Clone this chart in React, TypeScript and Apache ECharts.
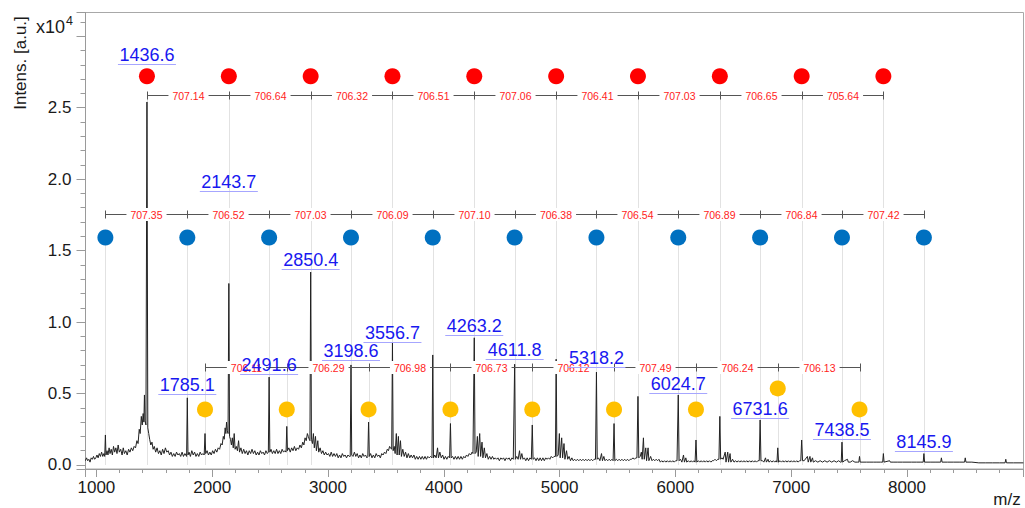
import React, { useEffect, useRef } from "react";
import * as echarts from "echarts";

// Spectrum profile: [m/z, intensity (x10^4 a.u.)]
const spectrum: [number, number][] = [
  [905, .03], [915, .05], [925, .03], [935, .04], [945, .02], [955, .05], [965, .04], [975, .06], [985, .04], [995, .05],
  [1005, .07], [1015, .05], [1025, .08], [1035, .06], [1045, .09], [1055, .06], [1065, .08], [1072, .06], [1077.8, .21], [1083, .07],
  [1092, .10], [1100, .07], [1110, .12], [1118, .08], [1128, .11], [1138, .07], [1148, .13], [1158, .09], [1168, .12], [1178, .08],
  [1188, .14], [1198, .09], [1210, .11], [1222, .07], [1232, .12], [1242, .08], [1254, .10], [1266, .07], [1278, .11], [1290, .09],
  [1302, .12], [1314, .10], [1326, .13], [1338, .12], [1350, .17], [1360, .15], [1370, .25], [1378, .22], [1388, .34], [1396, .28],
  [1404, .36], [1410, .30], [1415, .49], [1420, .31], [1428, .28], [1436.6, 2.54], [1444, .26],
  [1452, .22], [1460, .18], [1470, .14], [1480, .16], [1490, .11], [1500, .13], [1512, .09], [1524, .12], [1536, .08], [1548, .10],
  [1560, .07], [1572, .11], [1584, .08], [1596, .12], [1608, .09], [1620, .10], [1632, .07], [1644, .09], [1656, .06], [1668, .08],
  [1680, .06], [1692, .09], [1704, .07], [1716, .08], [1728, .06], [1740, .09], [1752, .06], [1764, .08], [1772, .07], [1779, .06],
  [1785.1, .47], [1791, .07], [1800, .09], [1812, .06], [1824, .10], [1836, .07], [1848, .09], [1860, .06], [1872, .08], [1884, .06],
  [1896, .09], [1908, .07], [1920, .08], [1931, .07], [1938, .22], [1944, .08], [1956, .10], [1968, .07], [1980, .09], [1992, .07],
  [2004, .10], [2016, .08], [2028, .11], [2040, .09], [2052, .12], [2064, .11], [2076, .15], [2086, .14], [2096, .20], [2104, .18],
  [2112, .26], [2118, .22], [2124, .30], [2130, .24], [2137, .22], [2143.7, 1.27], [2150, .20],
  [2158, .18], [2166, .14], [2174, .19], [2182, .12], [2190, .22], [2198, .11], [2208, .13], [2218, .10], [2228, .17], [2236, .09],
  [2248, .12], [2260, .08], [2272, .11], [2284, .08], [2296, .10], [2308, .07], [2320, .10], [2332, .08], [2344, .11], [2356, .08],
  [2368, .10], [2380, .07], [2392, .09], [2404, .07], [2416, .10], [2428, .08], [2440, .09], [2452, .07], [2464, .10], [2476, .08],
  [2485, .09], [2491.6, .615], [2498, .09], [2508, .11], [2520, .08], [2532, .10], [2544, .08], [2556, .11], [2568, .08], [2580, .10],
  [2592, .08], [2604, .11], [2616, .09], [2628, .10], [2638, .09], [2644.1, .27], [2650, .10], [2662, .12], [2674, .09], [2686, .12],
  [2698, .10], [2710, .13], [2722, .10], [2734, .12], [2746, .11], [2758, .14], [2770, .12], [2782, .16], [2792, .14], [2802, .19],
  [2812, .17], [2822, .22], [2830, .20], [2838, .18], [2844, .17], [2850.4, 1.35], [2857, .18],
  [2866, .15], [2874, .22], [2882, .12], [2892, .20], [2900, .10], [2912, .17], [2920, .09], [2932, .12], [2944, .08], [2956, .10],
  [2968, .07], [2980, .09], [2992, .07], [3004, .08], [3016, .06], [3028, .09], [3040, .06], [3052, .08], [3064, .06], [3076, .08],
  [3088, .05], [3100, .07], [3112, .05], [3124, .08], [3136, .06], [3148, .07], [3160, .05], [3172, .07], [3184, .06], [3192, .06],
  [3198.6, .70], [3205, .07], [3216, .06], [3228, .09], [3240, .06], [3252, .08], [3264, .05], [3276, .07], [3288, .05], [3300, .08],
  [3312, .06], [3324, .07], [3336, .05], [3344, .06], [3350.4, .30], [3357, .06], [3368, .08], [3380, .05], [3392, .07], [3404, .05],
  [3416, .08], [3428, .06], [3440, .07], [3452, .05], [3464, .08], [3476, .07], [3488, .09], [3500, .08], [3512, .11], [3522, .10],
  [3532, .13], [3540, .12], [3550, .11], [3556.7, .86], [3563, .10],
  [3572, .13], [3580, .08], [3590, .22], [3597, .07], [3608, .20], [3615, .07], [3626, .17], [3634, .06], [3646, .11], [3658, .06],
  [3670, .09], [3682, .05], [3694, .08], [3706, .05], [3718, .07], [3730, .05], [3742, .07], [3754, .04], [3766, .06], [3778, .04],
  [3790, .06], [3802, .04], [3814, .06], [3826, .04], [3838, .06], [3850, .04], [3862, .06], [3874, .05], [3886, .06], [3898, .05],
  [3904.7, .77], [3911, .05], [3922, .07], [3934, .05], [3946, .12], [3954, .05], [3966, .09], [3978, .05], [3990, .07], [4002, .04],
  [4014, .06], [4026, .04], [4038, .06], [4050, .05], [4057.4, .29], [4064, .05], [4076, .06], [4088, .04], [4100, .06], [4112, .04],
  [4124, .06], [4136, .04], [4148, .06], [4160, .04], [4172, .06], [4184, .05], [4196, .07], [4208, .06], [4220, .08], [4232, .07],
  [4244, .09], [4252, .08], [4258, .08], [4263.2, .89], [4270, .08],
  [4280, .09], [4290, .20], [4297, .06], [4310, .22], [4318, .06], [4330, .16], [4338, .05], [4350, .12], [4360, .05], [4372, .08],
  [4384, .04], [4396, .06], [4408, .04], [4420, .06], [4432, .04], [4444, .05], [4456, .04], [4468, .05], [4480, .03], [4492, .05],
  [4504, .04], [4516, .05], [4528, .03], [4540, .05], [4552, .04], [4564, .05], [4576, .03], [4588, .05], [4600, .04], [4606, .04],
  [4611.8, .705], [4618, .04], [4630, .06], [4642, .04], [4654, .10], [4662, .04], [4674, .08], [4684, .04], [4696, .05], [4708, .03],
  [4720, .05], [4732, .03], [4744, .05], [4756, .04], [4764.1, .28], [4771, .04], [4784, .05], [4796, .03], [4808, .05], [4820, .03],
  [4832, .05], [4844, .03], [4856, .05], [4868, .03], [4880, .05], [4892, .04], [4904, .05], [4916, .04], [4928, .06], [4940, .05],
  [4952, .06], [4964, .06], [4970.3, .74], [4977, .06],
  [4988, .07], [4998, .22], [5005, .05], [5018, .19], [5026, .05], [5038, .15], [5046, .04], [5060, .10], [5070, .04], [5082, .06],
  [5094, .03], [5106, .05], [5118, .03], [5130, .04], [5142, .03], [5154, .04], [5166, .03], [5178, .04], [5190, .03], [5202, .04],
  [5214, .03], [5226, .04], [5238, .03], [5250, .04], [5262, .03], [5274, .04], [5286, .03], [5298, .04], [5310, .04], [5318.2, .65],
  [5325, .04], [5336, .05], [5348, .03], [5362, .08], [5370, .03], [5382, .06], [5392, .03], [5404, .04], [5416, .03], [5428, .04],
  [5440, .03], [5452, .04], [5462, .03], [5470.2, .29], [5477, .03], [5490, .04], [5502, .03], [5514, .04], [5526, .03], [5538, .04],
  [5550, .03], [5562, .04], [5574, .03], [5586, .04], [5598, .03], [5610, .04], [5622, .04], [5634, .05], [5646, .04], [5658, .05],
  [5668, .05], [5676.7, .48], [5684, .05],
  [5696, .06], [5706, .09], [5713, .04], [5724, .19], [5731, .04], [5744, .12], [5751, .03], [5764, .12], [5771, .03], [5786, .06],
  [5798, .03], [5810, .04], [5822, .03], [5834, .04], [5846, .03], [5858, .04], [5870, .02], [5882, .03], [5894, .02], [5906, .03],
  [5918, .02], [5930, .03], [5942, .02], [5954, .03], [5966, .02], [5978, .03], [5990, .02], [6002, .03], [6014, .03], [6024.7, .49],
  [6032, .03], [6044, .04], [6056, .02], [6070, .07], [6078, .02], [6090, .05], [6098, .02], [6112, .03], [6124, .02], [6136, .03],
  [6148, .02], [6160, .03], [6170, .02], [6177.7, .175], [6185, .02], [6198, .03], [6210, .02], [6222, .03], [6234, .02], [6246, .03],
  [6258, .02], [6270, .03], [6282, .02], [6294, .03], [6306, .02], [6318, .03], [6330, .03], [6342, .04], [6354, .03], [6366, .04],
  [6376, .04], [6383.7, .34], [6391, .04],
  [6402, .05], [6412, .04], [6430, .09], [6437, .02], [6452, .09], [6459, .02], [6472, .08], [6479, .02], [6494, .04], [6506, .02],
  [6520, .03], [6532, .02], [6544, .03], [6556, .02], [6568, .03], [6580, .02], [6592, .03], [6604, .02], [6616, .03], [6628, .02],
  [6640, .03], [6652, .02], [6664, .03], [6676, .02], [6688, .03], [6700, .02], [6712, .03], [6724, .03], [6731.6, .315], [6739, .03],
  [6752, .03], [6764, .02], [6778, .05], [6786, .02], [6800, .04], [6808, .02], [6822, .03], [6834, .02], [6846, .03], [6858, .02],
  [6870, .03], [6877, .02], [6883.9, .12], [6891, .02], [6904, .03], [6916, .02], [6928, .03], [6940, .02], [6952, .03], [6964, .02],
  [6976, .03], [6988, .02], [7000, .03], [7012, .02], [7024, .03], [7036, .02], [7048, .03], [7060, .02], [7072, .03], [7083, .03],
  [7090.4, .175], [7098, .03],
  [7112, .03], [7140, .06], [7147, .02], [7162, .06], [7169, .02], [7184, .05], [7191, .02], [7210, .03], [7230, .02], [7250, .03],
  [7270, .02], [7290, .03], [7310, .02], [7330, .03], [7350, .02], [7370, .03], [7390, .02], [7410, .03], [7425, .02], [7432, .02],
  [7438.5, .16], [7445, .02], [7460, .03], [7486, .04], [7493, .02], [7510, .02], [7530, .03], [7550, .02], [7570, .02], [7584, .02],
  [7590, .06], [7596, .02], [7620, .02], [7650, .02], [7680, .02], [7710, .02], [7740, .02], [7770, .02], [7790, .02], [7796, .08],
  [7802, .02], [7850, .03], [7856, .02], [7880, .02], [7920, .02], [7960, .02], [8000, .02], [8040, .02], [8080, .02], [8120, .02],
  [8140, .02], [8145.9, .08], [8152, .02], [8200, .02], [8250, .02], [8291, .02], [8297, .05], [8303, .02], [8350, .02], [8400, .02],
  [8450, .02], [8497, .02], [8503, .05], [8509, .02], [8560, .02], [8620, .015], [8680, .015], [8740, .015], [8800, .015], [8847, .015],
  [8853, .04], [8859, .015], [8920, .015], [9005, .015],
];

// Peak series (m/z) and their mass differences
const redMz = [1436.6, 2143.7, 2850.4, 3556.7, 4263.2, 4970.3, 5676.7, 6383.7, 7090.4, 7796.0];
const redDiff = ["707.14", "706.64", "706.32", "706.51", "707.06", "706.41", "707.03", "706.65", "705.64"];
const blueMz = [1077.75, 1785.1, 2491.6, 3198.6, 3904.7, 4611.8, 5318.2, 6024.7, 6731.6, 7438.5, 8145.9];
const blueDiff = ["707.35", "706.52", "707.03", "706.09", "707.10", "706.38", "706.54", "706.89", "706.84", "707.42"];
const orangeMz = [1938.0, 2644.1, 3350.4, 4057.4, 4764.1, 5470.2, 6177.7, 6883.9, 7590.0];
const orangeDiff = ["706.11", "706.29", "706.98", "706.73", "706.12", "707.49", "706.24", "706.13"];

// Marker heights (x10^4)
const redDotY = [2.72, 2.72, 2.72, 2.72, 2.72, 2.72, 2.72, 2.72, 2.72, 2.72];
const blueDotY = [1.592, 1.592, 1.592, 1.592, 1.592, 1.592, 1.592, 1.592, 1.592, 1.592, 1.592];
const orangeDotY = [0.389, 0.389, 0.389, 0.389, 0.389, 0.389, 0.389, 0.536, 0.389];
const redLineY = 2.587;
const blueLineY = 1.755;
const orangeLineY = 0.687;

// Peak labels
const peakLabelMz = [1436.6, 2143.7, 2850.4, 3556.7, 4263.2, 1785.1, 2491.6, 3198.6, 4611.8, 5318.2, 6024.7, 6731.6, 7438.5, 8145.9];
const peakLabelY = [2.867, 1.983, 1.436, 0.923, 0.972, 0.557, 0.699, 0.799, 0.804, 0.746, 0.569, 0.394, 0.245, 0.161];

const FONT = "'Liberation Sans', Arial, Helvetica, sans-serif";
const X_MIN = 906;
const X_MAX = 9006;
const Y_MIN = -0.028;
const Y_MAX = 3.166;

function crisp(v: number) {
  return Math.round(v) + 0.5;
}

function guideSeries(mzs: number[], tops: number[]) {
  return {
    type: "custom",
    z: 1,
    silent: true,
    data: mzs.map((m, i) => [m, tops[i]]),
    renderItem: (params: any, api: any) => {
      const p0 = api.coord([api.value(0), api.value(1)]);
      const p1 = api.coord([api.value(0), 0]);
      const x = crisp(p0[0]);
      return {
        type: "line",
        shape: { x1: x, y1: p0[1], x2: x, y2: p1[1] },
        style: { stroke: "#e2e2e2", lineWidth: 1 },
      };
    },
  };
}

function dimSeries(mzs: number[], diffs: string[], lineY: number) {
  return {
    type: "custom",
    z: 4,
    silent: true,
    data: diffs.map((_, i) => [(mzs[i] + mzs[i + 1]) / 2, lineY]),
    renderItem: (params: any, api: any) => {
      const i = params.dataIndex;
      const p0 = api.coord([mzs[i], lineY]);
      const p1 = api.coord([mzs[i + 1], lineY]);
      const y = crisp(p0[1]);
      const x0 = crisp(p0[0]);
      const x1 = crisp(p1[0]);
      const children: any[] = [
        { type: "line", shape: { x1: x0, y1: y, x2: x1, y2: y }, style: { stroke: "#555", lineWidth: 1 } },
        { type: "line", shape: { x1: x0, y1: y - 4, x2: x0, y2: y + 4 }, style: { stroke: "#555", lineWidth: 1 } },
      ];
      if (i === diffs.length - 1) {
        children.push({ type: "line", shape: { x1: x1, y1: y - 4, x2: x1, y2: y + 4 }, style: { stroke: "#555", lineWidth: 1 } });
      }
      children.push({
        type: "text",
        x: (x0 + x1) / 2,
        y: y,
        style: {
          text: diffs[i],
          fill: "#ff1c1c",
          fontSize: 10.5,
          fontFamily: FONT,
          align: "center",
          verticalAlign: "middle",
          backgroundColor: "#ffffff",
          padding: [1, 4, 1, 4],
        },
      });
      return { type: "group", children };
    },
  };
}

function dotSeries(mzs: number[], ys: number[], color: string) {
  return {
    type: "scatter",
    z: 5,
    silent: true,
    symbol: "circle",
    symbolSize: 16,
    itemStyle: { color, opacity: 1 },
    data: mzs.map((m, i) => [m, ys[i]]),
  };
}

export default function App() {
  const ref = useRef<HTMLDivElement>(null);

  useEffect(() => {
    if (!ref.current) return;
    const chart = echarts.init(ref.current, undefined, { renderer: "svg" });
    const axisGray = "#9a9a9a";

    const option: any = {
      animation: false,
      backgroundColor: "#ffffff",
      textStyle: { fontFamily: FONT },
      grid: {
        left: 85.5,
        right: 1.5,
        top: 12.5,
        bottom: 39,
        show: true,
        borderColor: "#a8a8a8",
        borderWidth: 1,
        backgroundColor: "transparent",
        containLabel: false,
        outerBoundsMode: "none",
      },
      xAxis: [
        {
          type: "value",
          min: X_MIN,
          max: X_MAX,
          splitNumber: 8,
          minInterval: 1000,
          maxInterval: 1000,
          axisLine: { show: true, onZero: false, lineStyle: { color: axisGray } },
          axisTick: { show: true, length: 8, lineStyle: { color: axisGray } },
          axisLabel: {
            color: "#1a1a1a",
            fontSize: 17,
            fontFamily: FONT,
            margin: 10,
            formatter: (v: number) => (v < 950 || v > 8500 ? "" : String(Math.round(v))),
          },
          splitLine: { show: false },
        },
        {
          type: "value",
          position: "bottom",
          min: X_MIN,
          max: X_MAX,
          splitNumber: 40,
          minInterval: 200,
          maxInterval: 200,
          axisLine: { show: false, onZero: false },
          axisTick: { show: true, length: 4, lineStyle: { color: axisGray } },
          axisLabel: { show: false },
          splitLine: { show: false },
        },
      ],
      yAxis: [
        {
          type: "value",
          min: Y_MIN,
          max: Y_MAX,
          splitNumber: 6,
          minInterval: 0.5,
          maxInterval: 0.5,
          axisLine: { show: true, onZero: false, lineStyle: { color: axisGray } },
          axisTick: { show: true, length: 9, lineStyle: { color: axisGray } },
          axisLabel: {
            color: "#1a1a1a",
            fontSize: 17,
            fontFamily: FONT,
            margin: 14,
            formatter: (v: number) => (v < -1e-6 || v > 2.95 ? "" : v.toFixed(1)),
          },
          splitLine: { show: false },
        },
        {
          type: "value",
          position: "left",
          min: Y_MIN,
          max: Y_MAX,
          splitNumber: 32,
          minInterval: 0.1,
          maxInterval: 0.1,
          axisLine: { show: false, onZero: false },
          axisTick: { show: true, length: 5, lineStyle: { color: axisGray } },
          axisLabel: { show: false },
          splitLine: { show: false },
        },
      ],
      graphic: [
        {
          type: "text",
          x: 20,
          y: 63,
          rotation: Math.PI / 2,
          style: {
            text: "Intens. [a.u.]",
            fill: "#1a1a1a",
            fontSize: 17,
            fontFamily: FONT,
            align: "center",
            verticalAlign: "middle",
          },
        },
        {
          type: "text",
          x: 36,
          y: 27,
          style: { text: "x10", fill: "#1a1a1a", fontSize: 18, fontFamily: FONT, align: "left", verticalAlign: "middle" },
        },
        {
          type: "text",
          x: 66,
          y: 21,
          style: { text: "4", fill: "#1a1a1a", fontSize: 12.5, fontFamily: FONT, align: "left", verticalAlign: "middle" },
        },
        {
          type: "text",
          x: 1007,
          y: 499,
          style: { text: "m/z", fill: "#1a1a1a", fontSize: 17, fontFamily: FONT, align: "center", verticalAlign: "middle" },
        },
      ],
      series: [
        guideSeries(redMz, redMz.map(() => redLineY)),
        guideSeries(blueMz, blueDotY),
        guideSeries(orangeMz, orangeMz.map(() => orangeLineY)),
        {
          type: "line",
          z: 3,
          silent: true,
          showSymbol: false,
          symbol: "none",
          data: spectrum,
          lineStyle: { color: "#222222", width: 1 },
        },
        dimSeries(redMz, redDiff, redLineY),
        dimSeries(blueMz, blueDiff, blueLineY),
        dimSeries(orangeMz, orangeDiff, orangeLineY),
        dotSeries(redMz, redDotY, "#ff0000"),
        dotSeries(blueMz, blueDotY, "#0070c0"),
        dotSeries(orangeMz, orangeDotY, "#ffc000"),
        {
          type: "custom",
          z: 6,
          silent: true,
          data: peakLabelMz.map((m, i) => [m, peakLabelY[i]]),
          renderItem: (params: any, api: any) => {
            const i = params.dataIndex;
            const p = api.coord([api.value(0), api.value(1)]);
            const uy = crisp(p[1] + 9);
            return {
              type: "group",
              children: [
                {
                  type: "text",
                  x: p[0],
                  y: p[1],
                  style: {
                    text: peakLabelMz[i].toFixed(1),
                    fill: "#1818f0",
                    fontSize: 18,
                    fontFamily: FONT,
                    align: "center",
                    verticalAlign: "middle",
                  },
                },
                {
                  type: "line",
                  shape: { x1: p[0] - 29, y1: uy, x2: p[0] + 29, y2: uy },
                  style: { stroke: "#a6a6ff", lineWidth: 1 },
                },
              ],
            };
          },
        },
      ],
    };

    chart.setOption(option);
    return () => chart.dispose();
  }, []);

  return (
    <div
      ref={ref}
      style={{ position: "absolute", left: 0, top: 0, width: 1025, height: 508, background: "#fff" }}
    />
  );
}
